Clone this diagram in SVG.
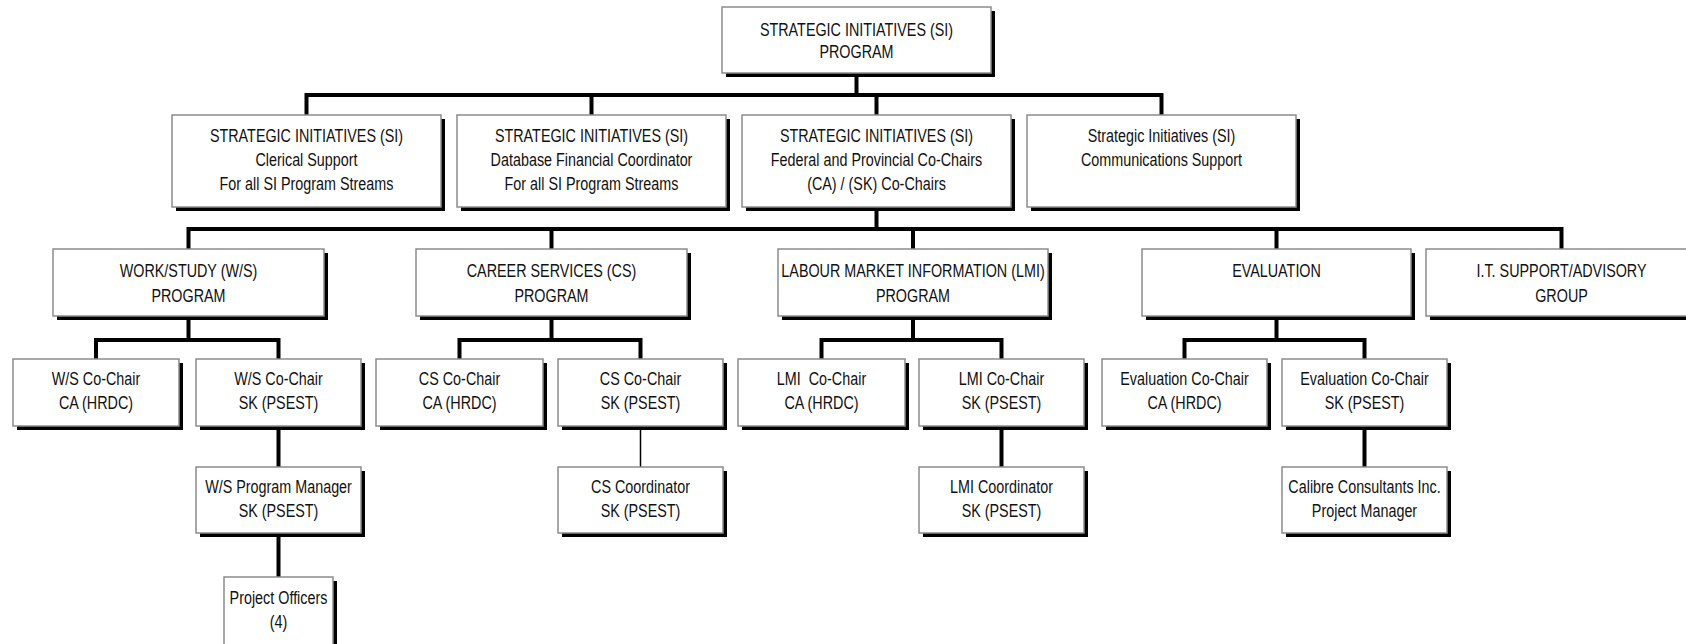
<svg xmlns="http://www.w3.org/2000/svg" width="1686" height="644" viewBox="0 0 1686 644">
<style>
.box{fill:#fff;stroke:#8c8c8c;stroke-width:1.5}
.sh{fill:#000}
.t{font-family:"Liberation Sans",Arial,sans-serif;font-size:17.5px;fill:#111;text-anchor:middle;white-space:pre}
.c{fill:none;stroke:#000;stroke-width:4;stroke-linejoin:miter;stroke-linecap:butt}
.thin{stroke-width:1.5}
</style>
<rect width="1686" height="644" fill="#fff"/>
<g id="connectors">
<path class="c" d="M856.5 73V95M306.5 115V95H1161.5V115M591.5 95V115M876.5 95V115"/>
<path class="c" d="M876.5 207V229M188.5 249V229H1561.5V249M551.5 229V249M913 229V249M1276.5 229V249"/>
<path class="c" d="M188.5 316V340M96 359V340H278.5V359"/>
<path class="c" d="M551.5 316V340M459.5 359V340H640.5V359"/>
<path class="c" d="M913 316V340M821.5 359V340H1001.5V359"/>
<path class="c" d="M1276.5 316V340M1184.5 359V340H1364.5V359"/>
<path class="c" d="M278.5 426V467M1001.5 426V467M1364.5 426V467M278.5 533V577"/>
<path class="c thin" d="M640.5 426V467"/>
</g>
<g id="n-si-program"><rect class="sh" x="726" y="11" width="269" height="66"/><rect class="box" x="722" y="7" width="269" height="66"/>
<text class="t" transform="translate(856.5 0) scale(0.82 1)"><tspan x="0" y="36">STRATEGIC INITIATIVES (SI)</tspan><tspan x="0" y="58">PROGRAM</tspan></text></g>
<g id="n-clerical"><rect class="sh" x="176" y="119" width="269" height="92"/><rect class="box" x="172" y="115" width="269" height="92"/>
<text class="t" transform="translate(306.5 0) scale(0.82 1)"><tspan x="0" y="142.5">STRATEGIC INITIATIVES (SI)</tspan><tspan x="0" y="166.5">Clerical Support</tspan><tspan x="0" y="190.5">For all SI Program Streams</tspan></text></g>
<g id="n-database"><rect class="sh" x="461" y="119" width="269" height="92"/><rect class="box" x="457" y="115" width="269" height="92"/>
<text class="t" transform="translate(591.5 0) scale(0.82 1)"><tspan x="0" y="142.5">STRATEGIC INITIATIVES (SI)</tspan><tspan x="0" y="166.5">Database Financial Coordinator</tspan><tspan x="0" y="190.5">For all SI Program Streams</tspan></text></g>
<g id="n-cochairs"><rect class="sh" x="746" y="119" width="269" height="92"/><rect class="box" x="742" y="115" width="269" height="92"/>
<text class="t" transform="translate(876.5 0) scale(0.82 1)"><tspan x="0" y="142.5">STRATEGIC INITIATIVES (SI)</tspan><tspan x="0" y="166.5">Federal and Provincial Co-Chairs</tspan><tspan x="0" y="190.5">(CA) / (SK) Co-Chairs</tspan></text></g>
<g id="n-communications"><rect class="sh" x="1031" y="119" width="269" height="92"/><rect class="box" x="1027" y="115" width="269" height="92"/>
<text class="t" transform="translate(1161.5 0) scale(0.82 1)"><tspan x="0" y="142.5">Strategic Initiatives (SI)</tspan><tspan x="0" y="166.5">Communications Support</tspan></text></g>
<g id="n-ws"><rect class="sh" x="57" y="253" width="271" height="67"/><rect class="box" x="53" y="249" width="271" height="67"/>
<text class="t" transform="translate(188.5 0) scale(0.82 1)"><tspan x="0" y="277">WORK/STUDY (W/S)</tspan><tspan x="0" y="302">PROGRAM</tspan></text></g>
<g id="n-cs"><rect class="sh" x="420" y="253" width="271" height="67"/><rect class="box" x="416" y="249" width="271" height="67"/>
<text class="t" transform="translate(551.5 0) scale(0.82 1)"><tspan x="0" y="277">CAREER SERVICES (CS)</tspan><tspan x="0" y="302">PROGRAM</tspan></text></g>
<g id="n-lmi"><rect class="sh" x="782" y="253" width="270" height="67"/><rect class="box" x="778" y="249" width="270" height="67"/>
<text class="t" transform="translate(913 0) scale(0.82 1)"><tspan x="0" y="277">LABOUR MARKET INFORMATION (LMI)</tspan><tspan x="0" y="302">PROGRAM</tspan></text></g>
<g id="n-eval"><rect class="sh" x="1146" y="253" width="269" height="67"/><rect class="box" x="1142" y="249" width="269" height="67"/>
<text class="t" transform="translate(1276.5 0) scale(0.82 1)"><tspan x="0" y="277">EVALUATION</tspan></text></g>
<g id="n-it"><rect class="sh" x="1430" y="253" width="271" height="67"/><rect class="box" x="1426" y="249" width="271" height="67"/>
<text class="t" transform="translate(1561.5 0) scale(0.82 1)"><tspan x="0" y="277">I.T. SUPPORT/ADVISORY</tspan><tspan x="0" y="302">GROUP</tspan></text></g>
<g id="n-ws-ca"><rect class="sh" x="17" y="363" width="166" height="67"/><rect class="box" x="13" y="359" width="166" height="67"/>
<text class="t" transform="translate(96 0) scale(0.82 1)"><tspan x="0" y="385">W/S Co-Chair</tspan><tspan x="0" y="409">CA (HRDC)</tspan></text></g>
<g id="n-ws-sk"><rect class="sh" x="200" y="363" width="165" height="67"/><rect class="box" x="196" y="359" width="165" height="67"/>
<text class="t" transform="translate(278.5 0) scale(0.82 1)"><tspan x="0" y="385">W/S Co-Chair</tspan><tspan x="0" y="409">SK (PSEST)</tspan></text></g>
<g id="n-cs-ca"><rect class="sh" x="380" y="363" width="167" height="67"/><rect class="box" x="376" y="359" width="167" height="67"/>
<text class="t" transform="translate(459.5 0) scale(0.82 1)"><tspan x="0" y="385">CS Co-Chair</tspan><tspan x="0" y="409">CA (HRDC)</tspan></text></g>
<g id="n-cs-sk"><rect class="sh" x="562" y="363" width="165" height="67"/><rect class="box" x="558" y="359" width="165" height="67"/>
<text class="t" transform="translate(640.5 0) scale(0.82 1)"><tspan x="0" y="385">CS Co-Chair</tspan><tspan x="0" y="409">SK (PSEST)</tspan></text></g>
<g id="n-lmi-ca"><rect class="sh" x="742" y="363" width="167" height="67"/><rect class="box" x="738" y="359" width="167" height="67"/>
<text class="t" transform="translate(821.5 0) scale(0.82 1)"><tspan x="0" y="385">LMI  Co-Chair</tspan><tspan x="0" y="409">CA (HRDC)</tspan></text></g>
<g id="n-lmi-sk"><rect class="sh" x="923" y="363" width="165" height="67"/><rect class="box" x="919" y="359" width="165" height="67"/>
<text class="t" transform="translate(1001.5 0) scale(0.82 1)"><tspan x="0" y="385">LMI Co-Chair</tspan><tspan x="0" y="409">SK (PSEST)</tspan></text></g>
<g id="n-eval-ca"><rect class="sh" x="1106" y="363" width="165" height="67"/><rect class="box" x="1102" y="359" width="165" height="67"/>
<text class="t" transform="translate(1184.5 0) scale(0.82 1)"><tspan x="0" y="385">Evaluation Co-Chair</tspan><tspan x="0" y="409">CA (HRDC)</tspan></text></g>
<g id="n-eval-sk"><rect class="sh" x="1286" y="363" width="165" height="67"/><rect class="box" x="1282" y="359" width="165" height="67"/>
<text class="t" transform="translate(1364.5 0) scale(0.82 1)"><tspan x="0" y="385">Evaluation Co-Chair</tspan><tspan x="0" y="409">SK (PSEST)</tspan></text></g>
<g id="n-ws-pm"><rect class="sh" x="200" y="471" width="165" height="66"/><rect class="box" x="196" y="467" width="165" height="66"/>
<text class="t" transform="translate(278.5 0) scale(0.82 1)"><tspan x="0" y="493">W/S Program Manager</tspan><tspan x="0" y="517">SK (PSEST)</tspan></text></g>
<g id="n-cs-coord"><rect class="sh" x="562" y="471" width="165" height="66"/><rect class="box" x="558" y="467" width="165" height="66"/>
<text class="t" transform="translate(640.5 0) scale(0.82 1)"><tspan x="0" y="493">CS Coordinator</tspan><tspan x="0" y="517">SK (PSEST)</tspan></text></g>
<g id="n-lmi-coord"><rect class="sh" x="923" y="471" width="165" height="66"/><rect class="box" x="919" y="467" width="165" height="66"/>
<text class="t" transform="translate(1001.5 0) scale(0.82 1)"><tspan x="0" y="493">LMI Coordinator</tspan><tspan x="0" y="517">SK (PSEST)</tspan></text></g>
<g id="n-calibre"><rect class="sh" x="1286" y="471" width="165" height="66"/><rect class="box" x="1282" y="467" width="165" height="66"/>
<text class="t" transform="translate(1364.5 0) scale(0.82 1)"><tspan x="0" y="493">Calibre Consultants Inc.</tspan><tspan x="0" y="517">Project Manager</tspan></text></g>
<g id="n-officers"><rect class="sh" x="228" y="581" width="109" height="70"/><rect class="box" x="224" y="577" width="109" height="70"/>
<text class="t" transform="translate(278.5 0) scale(0.82 1)"><tspan x="0" y="604">Project Officers</tspan><tspan x="0" y="628">(4)</tspan></text></g>
</svg>
